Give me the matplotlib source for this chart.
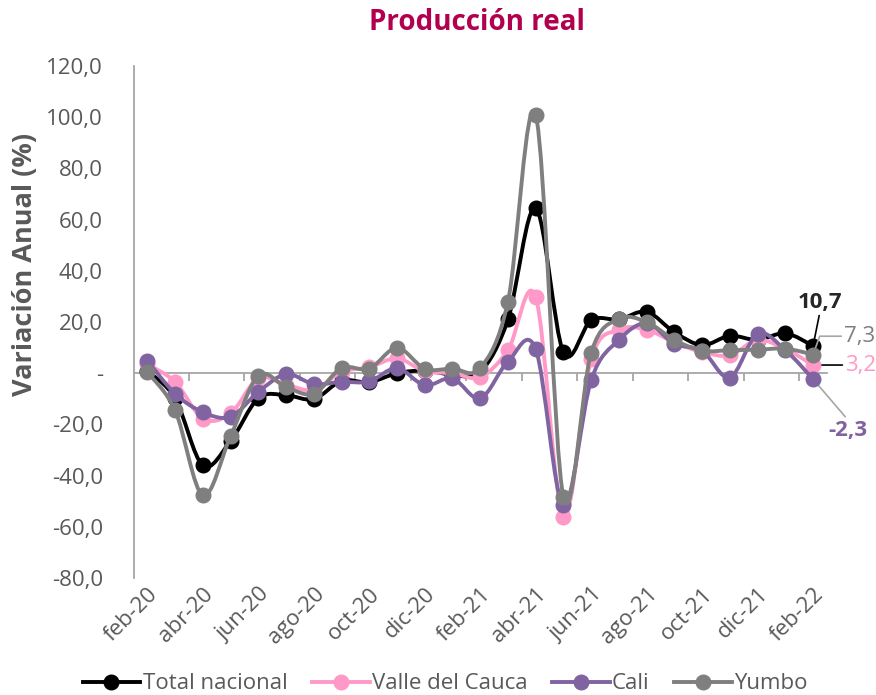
import numpy as np
import matplotlib
matplotlib.use("Agg")
import matplotlib.pyplot as plt
from matplotlib.path import Path
from matplotlib.patches import PathPatch
from matplotlib.lines import Line2D
from matplotlib.ticker import FuncFormatter

plt.rcParams["font.family"] = ["Open Sans", "DejaVu Sans"]
plt.rcParams["axes.unicode_minus"] = False

meses = ["feb-20", "mar-20", "abr-20", "may-20", "jun-20", "jul-20", "ago-20",
         "sep-20", "oct-20", "nov-20", "dic-20", "ene-21", "feb-21", "mar-21",
         "abr-21", "may-21", "jun-21", "jul-21", "ago-21", "sep-21", "oct-21",
         "nov-21", "dic-21", "ene-22", "feb-22"]

total_nacional = [0.8, -9.8, -36.0, -26.5, -9.8, -8.6, -10.1, -3.0, -3.5, 0.0,
                  1.0, -0.5, 0.5, 21.0, 64.5, 8.2, 20.7, 21.0, 24.0, 16.0,
                  11.0, 14.6, 13.0, 15.6, 10.7]
valle = [3.5, -3.4, -17.7, -15.7, -2.0, -4.5, -6.5, 0.5, 2.3, 5.8,
         0.8, 0.0, -1.5, 9.0, 29.7, -56.0, 5.5, 17.0, 17.0, 12.0,
         8.3, 7.0, 13.0, 9.5, 3.2]
cali = [4.9, -8.0, -15.2, -17.0, -7.3, -0.4, -4.2, -3.4, -3.2, 2.0,
        -4.7, -2.0, -9.8, 4.5, 9.4, -51.6, -2.7, 13.0, 19.5, 11.5,
        8.8, -1.7, 15.4, 9.0, -2.3]
yumbo = [0.4, -14.5, -47.7, -24.6, -1.0, -5.4, -8.0, 2.0, 1.8, 9.9,
         1.8, 1.8, 2.0, 28.0, 101.0, -48.4, 8.0, 21.2, 20.0, 13.0,
         8.8, 9.0, 9.2, 9.6, 7.3]

series = [("Total nacional", total_nacional, "#000000"),
          ("Valle del Cauca", valle, "#FF99C7"),
          ("Cali", cali, "#8064A2"),
          ("Yumbo", yumbo, "#7F7F7F")]

gris_txt = "#595959"
fs = 16


def curva_suave(y):
    # linea suavizada tipo Excel (Catmull-Rom como Bezier cubica)
    pts = np.column_stack([np.arange(len(y)), y]).astype(float)
    n = len(pts)
    verts = [pts[0]]
    codes = [Path.MOVETO]
    for i in range(n - 1):
        p0 = pts[max(i - 1, 0)]
        p1 = pts[i]
        p2 = pts[i + 1]
        p3 = pts[min(i + 2, n - 1)]
        verts += [p1 + (p2 - p0) / 6, p2 - (p3 - p1) / 6, p2]
        codes += [Path.CURVE4] * 3
    return Path(verts, codes)


fig = plt.figure(figsize=(8.76, 6.95), dpi=100)
ax = fig.add_axes([0.1524, 0.1683, 0.7916, 0.7367])

x = np.arange(len(meses))
handles = []
for k, (nombre, vals, col) in enumerate(series):
    ax.add_patch(PathPatch(curva_suave(vals), fill=False, edgecolor=col,
                           lw=2.8, zorder=3 + k, capstyle="round"))
    ax.plot(x, vals, "o", color=col, ms=10.5, zorder=3 + k)
    handles.append(Line2D([], [], color=col, lw=2.8, marker="o", ms=10.5))

ax.set_xlim(-0.5, len(meses) - 0.5)
ax.set_ylim(-80, 120)
ax.set_yticks(np.arange(-80, 121, 20))
ax.yaxis.set_major_formatter(FuncFormatter(
    lambda v, p: "-" if abs(v) < 1e-9 else f"{v:.1f}".replace(".", ",")))
ax.tick_params(axis="y", length=0, pad=22, labelsize=fs, labelcolor=gris_txt)

ax.set_xticks(x[::2])
ax.set_xticklabels(meses[::2], rotation=45, ha="right", rotation_mode="anchor")
ax.tick_params(axis="x", length=0, pad=4, labelsize=fs, labelcolor=gris_txt)

for s in ["top", "right", "bottom"]:
    ax.spines[s].set_visible(False)
ax.spines["left"].set_color("#A6A6A6")
ax.spines["left"].set_linewidth(1.3)

# eje horizontal en cero con marcas cada dos meses
eje0 = ax.secondary_xaxis(0.4)
eje0.set_xticks(np.arange(1.5, len(meses), 2))
eje0.set_xticklabels([])
eje0.tick_params(length=6, width=1.3, color="#A6A6A6", direction="out")
eje0.spines["bottom"].set_color("#A6A6A6")
eje0.spines["bottom"].set_linewidth(1.3)

# etiquetas del ultimo dato
ult = len(meses) - 1
etiquetas = [
    (total_nacional[ult], (4.8, 31.4), "#262626", "bold", "black", "arc3", (0.5, 0.0)),
    (yumbo[ult], (33.5, 13.2), "#7F7F7F", "normal", "#A6A6A6",
     "angle,angleA=0,angleB=70,rad=0", (0.0, 0.5)),
    (valle[ult], (34.3, 0.0), "#FF99C7", "normal", "black", "arc3", (0.0, 0.5)),
    (cali[ult], (24.9, -36.7), "#7F63A1", "bold", "#A6A6A6", "arc3", (0.5, 1.0)),
]
for val, off, col, peso, col_linea, con, rel in etiquetas:
    ax.annotate(f"{val:.1f}".replace(".", ","), xy=(ult, val), xytext=off,
                textcoords="offset points", ha="center", va="center",
                fontsize=fs, color=col, fontweight=peso, annotation_clip=False,
                arrowprops=dict(arrowstyle="-", color=col_linea, lw=1.2,
                                connectionstyle=con, relpos=rel,
                                shrinkA=0, shrinkB=5))

fig.text(0.545, 0.968, "Producción real", ha="center", va="center",
         fontsize=20, fontweight="bold", color="#B2004E")
fig.text(0.029, 0.62, "Variación Anual (%)", ha="center", va="center",
         rotation=90, fontsize=19.5, fontweight="bold", color=gris_txt)

fig.legend(handles, [s[0] for s in series], loc="center", ncol=4,
           bbox_to_anchor=(0.508, 0.016), frameon=False, fontsize=fs,
           handlelength=2.6, handletextpad=0.1, columnspacing=1.1,
           labelcolor=gris_txt)

fig.savefig("out.png", dpi=100)
